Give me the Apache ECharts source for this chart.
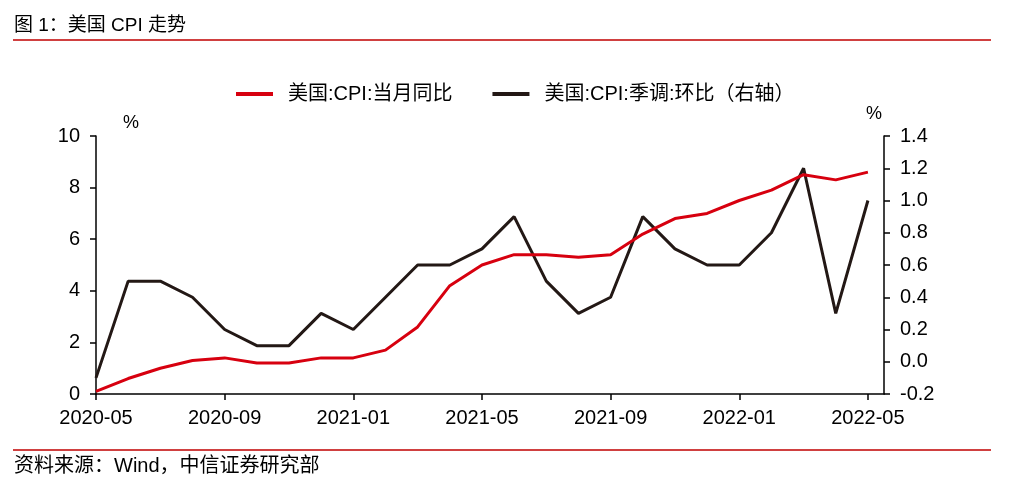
<!DOCTYPE html>
<html><head><meta charset="utf-8">
<script src="https://cdn.jsdelivr.net/npm/echarts@6/dist/echarts.min.js"></script>
<style>html,body{margin:0;padding:0;background:#fff}#c{width:1012px;height:503px}</style>
</head><body><div id="c"></div>
<script>
const months = ['2020-05','2020-06','2020-07','2020-08','2020-09','2020-10','2020-11','2020-12',
 '2021-01','2021-02','2021-03','2021-04','2021-05','2021-06','2021-07','2021-08','2021-09','2021-10','2021-11','2021-12',
 '2022-01','2022-02','2022-03','2022-04','2022-05'];
const cpiYoY = [0.1,0.6,1.0,1.3,1.4,1.2,1.2,1.4,1.4,1.7,2.6,4.2,5.0,5.4,5.4,5.3,5.4,6.2,6.8,7.0,7.5,7.9,8.5,8.3,8.6];
const cpiMoM = [-0.1,0.5,0.5,0.4,0.2,0.1,0.1,0.3,0.2,0.4,0.6,0.6,0.7,0.9,0.5,0.3,0.4,0.9,0.7,0.6,0.6,0.8,1.2,0.3,1.0];
const xTickIdx = [0,4,8,12,16,20,24];
const nameYoY = '美国:CPI:当月同比';
const nameMoM = '美国:CPI:季调:环比（右轴）';

const FONT = '"Liberation Sans","Noto Sans CJK SC",sans-serif';
const chart = echarts.init(document.getElementById('c'), null, {renderer:'canvas'});
const axisLineStyle = {color:'#000', width:1.5};
chart.setOption({
  animation:false,
  textStyle:{fontFamily:FONT},
  grid:{left:96, right:128, top:136, bottom:109, containLabel:false},
  legend:{
    top:79, left:231, itemWidth:37, itemHeight:4, itemGap:40, icon:'rect',
    textStyle:{fontSize:20, color:'#000', fontFamily:FONT, padding:[0,0,0,10]},
    data:[nameYoY, nameMoM]
  },
  xAxis:{
    type:'value', min:0, max:24.5,
    splitLine:{show:false},
    axisLine:{show:true, lineStyle:axisLineStyle},
    axisTick:{show:true, length:6, lineStyle:axisLineStyle, customValues:xTickIdx},
    axisLabel:{color:'#000', fontSize:20, margin:14, fontFamily:FONT, customValues:xTickIdx,
      formatter:v=>months[Math.round(v)]}
  },
  yAxis:[{
    type:'value', min:0, max:10, interval:2, position:'left',
    splitLine:{show:false},
    axisLine:{show:true, lineStyle:axisLineStyle},
    axisTick:{show:true, length:6, lineStyle:axisLineStyle},
    axisLabel:{color:'#000', fontSize:20, margin:16, fontFamily:FONT}
  },{
    type:'value', min:-0.2, max:1.4, interval:0.2, position:'right',
    splitLine:{show:false},
    axisLine:{show:true, lineStyle:axisLineStyle},
    axisTick:{show:true, length:6, lineStyle:axisLineStyle},
    axisLabel:{color:'#000', fontSize:20, margin:16, fontFamily:FONT, formatter:v=>v.toFixed(1)}
  }],
  series:[{
    name:nameYoY, type:'line', yAxisIndex:0, showSymbol:false, symbol:'none',
    data:cpiYoY.map((v,i)=>[i,v]), lineStyle:{color:'#d7000f', width:3}, itemStyle:{color:'#d7000f'}, z:3
  },{
    name:nameMoM, type:'line', yAxisIndex:1, showSymbol:false, symbol:'none',
    data:cpiMoM.map((v,i)=>[i,v]), lineStyle:{color:'#231815', width:3}, itemStyle:{color:'#231815'}, z:2
  }],
  graphic:[
    {type:'text', left:14, top:16, style:{text:'图 1：美国 CPI 走势', fontSize:19, fill:'#000', fontFamily:FONT}},
    {type:'line', shape:{x1:13,y1:40,x2:991,y2:40}, style:{stroke:'#c00000', lineWidth:1.5}},
    {type:'line', shape:{x1:13,y1:450,x2:991,y2:450}, style:{stroke:'#c00000', lineWidth:1.5}},
    {type:'text', left:14, top:456, style:{text:'资料来源：Wind，中信证券研究部', fontSize:20, fill:'#000', fontFamily:FONT}},
    {type:'text', left:123, top:114, style:{text:'%', fontSize:18, fill:'#000', fontFamily:FONT}},
    {type:'text', left:866, top:105, style:{text:'%', fontSize:18, fill:'#000', fontFamily:FONT}}
  ]
});
</script></body></html>
